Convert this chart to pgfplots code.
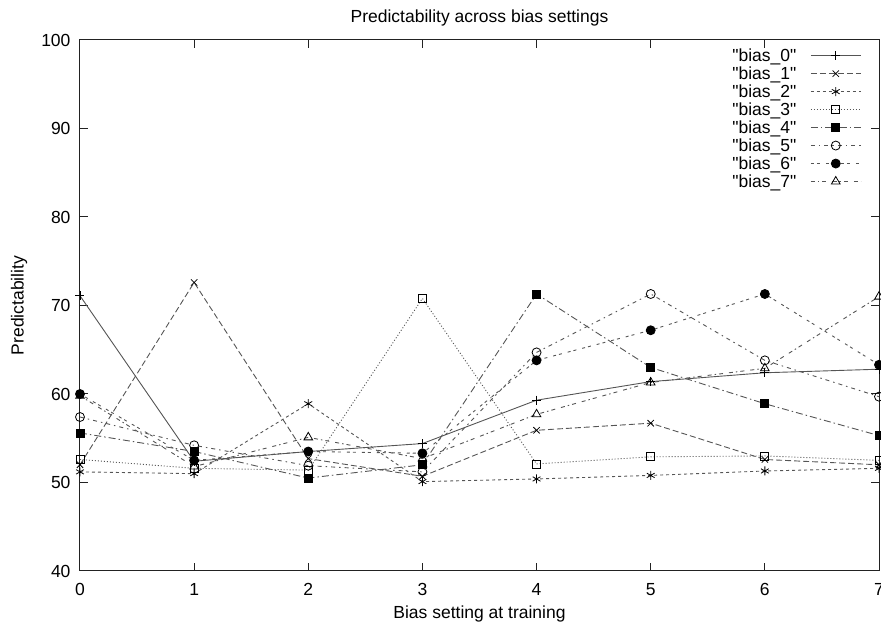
\documentclass[border=0pt]{standalone}
\usepackage{pgfplots}
\pgfplotsset{compat=1.18}
\usepackage{fontspec}
\setmainfont{Liberation Sans}[Ligatures=TeXOff]
\definecolor{ln}{HTML}{555555}
\definecolor{ax}{HTML}{222222}
\begin{document}
\begin{tikzpicture}
\begin{axis}[
  scale only axis, width=799pt, height=531pt,
  xmin=0, xmax=7, ymin=40, ymax=100,
  xtick={0,1,...,7}, ytick={40,50,...,100},
  tick align=inside, major tick length=8pt,
  axis line style={ax, line width=1pt},
  every tick/.style={ax, line width=1pt},
  /pgf/number format/assume math mode=true,
  ticklabel style={font=\fontsize{17.5}{19}\selectfont},
  xticklabel style={yshift=-9pt},
  yticklabel style={xshift=-6pt},
  title={Predictability across bias settings},
  title style={font=\fontsize{17.5}{19}\selectfont, at={(0.5,1)}, yshift=11pt, anchor=base},
  xlabel={Bias setting at training},
  ylabel={Predictability},
  label style={font=\fontsize{17.5}{19}\selectfont},
  xlabel style={at={(axis description cs:0.5,0)}, anchor=center, yshift=-43pt},
  ylabel style={at={(axis description cs:0,0.5)}, anchor=center, yshift=61pt},
  legend plot pos=right,
  legend cell align=right,
  legend style={draw=none, fill=none, at={(0.978,0.988)}, anchor=north east,
    font=\fontsize{17.5}{18}\selectfont, row sep=-0.2pt, inner sep=0pt},
  legend image code/.code={\path (0pt,0pt) (62pt,0pt); \draw[mark repeat=2,mark phase=2] plot coordinates {(12pt,0pt) (37pt,0pt) (62pt,0pt)};},
  every axis plot/.append style={line width=0.9pt, color=ln, mark options={solid, black, line width=0.8pt}},
]
\addplot[ln, solid, mark=+, mark size=4.5pt] coordinates {(0,71.1) (1,52.4) (2,53.5) (3,54.4) (4,59.3) (5,61.4) (6,62.4) (7,62.8)};
\addlegendentry{"bias\_0"}
\addplot[ln, dash pattern=on 6pt off 3pt, mark=x, mark size=4.5pt] coordinates {(0,52.0) (1,72.6) (2,52.7) (3,50.7) (4,55.9) (5,56.7) (6,52.6) (7,52.0)};
\addlegendentry{"bias\_1"}
\addplot[ln, dash pattern=on 3pt off 3pt, mark=asterisk, mark size=4.5pt] coordinates {(0,51.2) (1,51.0) (2,58.9) (3,50.1) (4,50.4) (5,50.8) (6,51.3) (7,51.6)};
\addlegendentry{"bias\_2"}
\addplot[ln, dash pattern=on 1pt off 2pt, mark=square, mark size=4pt] coordinates {(0,52.6) (1,51.6) (2,51.4) (3,70.8) (4,52.1) (5,52.9) (6,53.0) (7,52.5)};
\addlegendentry{"bias\_3"}
\addplot[ln, dash pattern=on 7pt off 3pt on 1.5pt off 3pt, mark=square*, mark size=4pt] coordinates {(0,55.6) (1,53.5) (2,50.5) (3,52.0) (4,71.3) (5,63.0) (6,58.9) (7,55.3)};
\addlegendentry{"bias\_4"}
\addplot[ln, dash pattern=on 4pt off 4pt on 1.5pt off 4pt, mark=o, mark size=4.5pt] coordinates {(0,57.4) (1,54.2) (2,51.9) (3,51.2) (4,64.7) (5,71.3) (6,63.8) (7,59.7)};
\addlegendentry{"bias\_5"}
\addplot[ln, dash pattern=on 3pt off 3pt on 3pt off 6pt, mark=*, mark size=4.5pt] coordinates {(0,60.0) (1,52.5) (2,53.5) (3,53.3) (4,63.8) (5,67.2) (6,71.3) (7,63.3)};
\addlegendentry{"bias\_6"}
\addplot[ln, dash pattern=on 4pt off 3pt on 1.5pt off 3pt on 4pt off 6pt, mark=triangle, mark size=5pt] coordinates {(0,59.8) (1,51.8) (2,55.1) (3,52.7) (4,57.7) (5,61.3) (6,62.9) (7,71.0)};
\addlegendentry{"bias\_7"}
\end{axis}
\pgfresetboundingbox
\useasboundingbox (-80pt,-57pt) rectangle (801pt,571pt);
\end{tikzpicture}
\end{document}
